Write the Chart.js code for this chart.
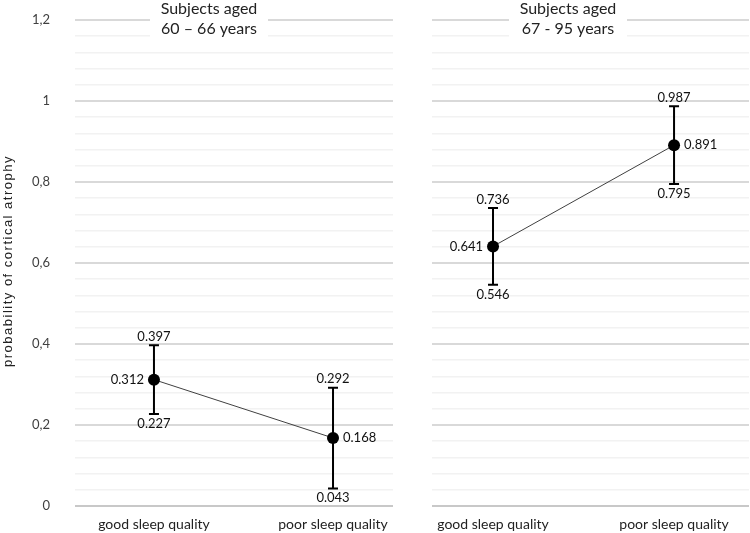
<!DOCTYPE html>
<html>
<head>
<meta charset="utf-8">
<script src="https://cdn.jsdelivr.net/npm/chart.js@4/dist/chart.umd.min.js"></script>
<style>
  html, body { margin: 0; padding: 0; background: #fff; }
  #wrap { position: relative; width: 750px; height: 533px; }
  #leftBox { position: absolute; left: 0; top: 0; width: 400px; height: 533px; }
  #rightBox { position: absolute; left: 400px; top: 0; width: 350px; height: 533px; }
</style>
</head>
<body>
<div id="wrap">
  <div id="leftBox"><canvas id="leftChart" width="400" height="533"></canvas></div>
  <div id="rightBox"><canvas id="rightChart" width="350" height="533"></canvas></div>
</div>
<script>
var categories = ['good sleep quality', 'poor sleep quality'];

// subjects aged 60 - 66
var youngMean = [0.312, 0.168];
var youngLower = [0.227, 0.043];
var youngUpper = [0.397, 0.292];
var youngTitle = ['Subjects aged', '60 \u2013 66 years'];

// subjects aged 67 - 95
var oldMean = [0.641, 0.891];
var oldLower = [0.546, 0.795];
var oldUpper = [0.736, 0.987];
var oldTitle = ['Subjects aged', '67 - 95 years'];

var yTitle = 'probability of cortical atrophy';
var fontFamily = 'Lato, "Liberation Sans", sans-serif';

function isMajor(v) {
  var r = v / 0.2;
  return Math.abs(r - Math.round(r)) < 1e-6;
}

function fmtTick(v) {
  return String(+v.toFixed(1)).replace('.', ',');
}

function noPad(scale) {
  scale.paddingTop = 0;
  scale.paddingBottom = 0;
  scale.paddingLeft = 0;
  scale.paddingRight = 0;
}

// error bars, value labels and the panel title
var panelPlugin = {
  id: 'panel',
  afterDatasetsDraw: function(chart) {
    var o = chart.options.plugins.panel;
    var ctx = chart.ctx;
    var xs = chart.scales.x, ys = chart.scales.y;
    ctx.save();
    for (var i = 0; i < o.mean.length; i++) {
      var x = xs.getPixelForValue(i);
      var yHi = ys.getPixelForValue(o.upper[i]);
      var yLo = ys.getPixelForValue(o.lower[i]);
      var yM = ys.getPixelForValue(o.mean[i]);
      ctx.strokeStyle = '#000';
      ctx.lineWidth = 2;
      ctx.beginPath();
      ctx.moveTo(x, yHi); ctx.lineTo(x, yLo);
      ctx.moveTo(x - 5, yHi); ctx.lineTo(x + 5, yHi);
      ctx.moveTo(x - 5, yLo); ctx.lineTo(x + 5, yLo);
      ctx.stroke();
      ctx.fillStyle = '#000';
      ctx.beginPath();
      ctx.arc(x, yM, 6, 0, Math.PI * 2);
      ctx.fill();

      ctx.font = '13px ' + fontFamily;
      ctx.fillStyle = '#111';
      ctx.textAlign = 'center';
      ctx.textBaseline = 'bottom';
      ctx.fillText(o.upper[i].toFixed(3), x, yHi - 2);
      ctx.textBaseline = 'top';
      ctx.fillText(o.lower[i].toFixed(3), x, yLo + 3);
      ctx.textBaseline = 'middle';
      if (i === 0) {
        ctx.textAlign = 'right';
        ctx.fillText(o.mean[i].toFixed(3), x - 10, yM);
      } else {
        ctx.textAlign = 'left';
        ctx.fillText(o.mean[i].toFixed(3), x + 10, yM);
      }
    }

    // title box over the grid
    ctx.fillStyle = '#fff';
    ctx.fillRect(o.titleX - 59, 0, 118, 42);
    ctx.fillStyle = '#222';
    ctx.font = '16px ' + fontFamily;
    ctx.textAlign = 'center';
    ctx.textBaseline = 'middle';
    ctx.fillText(o.title[0], o.titleX, 9);
    ctx.fillText(o.title[1], o.titleX, 29);

    // y axis title, spaced out like the original
    if (o.yTitle) {
      var area = chart.chartArea;
      ctx.translate(8, (area.top + area.bottom) / 2 - 2);
      ctx.rotate(-Math.PI / 2);
      ctx.font = '13px "Liberation Sans", Arial, sans-serif';
      if ('letterSpacing' in ctx) ctx.letterSpacing = '1.5px';
      ctx.fillStyle = '#222';
      ctx.fillText(o.yTitle, 0, 0);
    }
    ctx.restore();
  }
};

function makePanel(id, mean, lower, upper, title, opts) {
  var points = mean.map(function(v, i) { return {x: i, y: v}; });
  return new Chart(document.getElementById(id), {
    type: 'line',
    data: {
      datasets: [{
        data: points,
        borderColor: '#404040',
        borderWidth: 1,
        pointRadius: 0,
        tension: 0
      }]
    },
    options: {
      responsive: false,
      animation: false,
      layout: { padding: { top: 20, right: opts.padRight, left: 0, bottom: 0 } },
      plugins: {
        legend: { display: false },
        tooltip: { enabled: false },
        panel: {
          mean: mean, lower: lower, upper: upper, title: title,
          titleX: opts.titleX, yTitle: opts.showY ? yTitle : null
        }
      },
      scales: {
        x: {
          type: 'linear',
          min: opts.xMin,
          max: opts.xMax,
          afterBuildTicks: function(scale) {
            scale.ticks = categories.map(function(c, i) { return {value: i}; });
          },
          afterFit: function(scale) { scale.height = 27; noPad(scale); },
          grid: { display: false, drawTicks: false },
          border: { display: false },
          ticks: {
            autoSkip: false,
            maxRotation: 0,
            padding: 10,
            color: '#222',
            font: { family: fontFamily, size: 14 },
            callback: function(v) { return categories[v]; }
          }
        },
        y: {
          min: 0,
          max: 1.2,
          afterFit: function(scale) { scale.width = opts.yWidth; noPad(scale); },
          border: { display: false },
          grid: {
            drawTicks: false,
            color: function(c) {
              if (c.tick.value === 0) return '#c8c8c8';
              return isMajor(c.tick.value) ? '#d9d9d9' : '#f2f2f2';
            },
            lineWidth: function(c) { return isMajor(c.tick.value) ? 2 : 1.5; }
          },
          ticks: {
            display: opts.showY,
            count: 31,
            autoSkip: false,
            padding: 25,
            color: '#404040',
            font: { family: fontFamily, size: 13 },
            callback: function(v) { return isMajor(v) ? fmtTick(v) : ''; }
          }
        }
      }
    },
    plugins: [panelPlugin]
  });
}

makePanel('leftChart', youngMean, youngLower, youngUpper, youngTitle,
  { xMin: -0.441, xMax: 1.335, yWidth: 75, showY: true, padRight: 7, titleX: 209 });
makePanel('rightChart', oldMean, oldLower, oldUpper, oldTitle,
  { xMin: -0.337, xMax: 1.414, yWidth: 32, showY: false, padRight: 1, titleX: 168 });
</script>
</body>
</html>
